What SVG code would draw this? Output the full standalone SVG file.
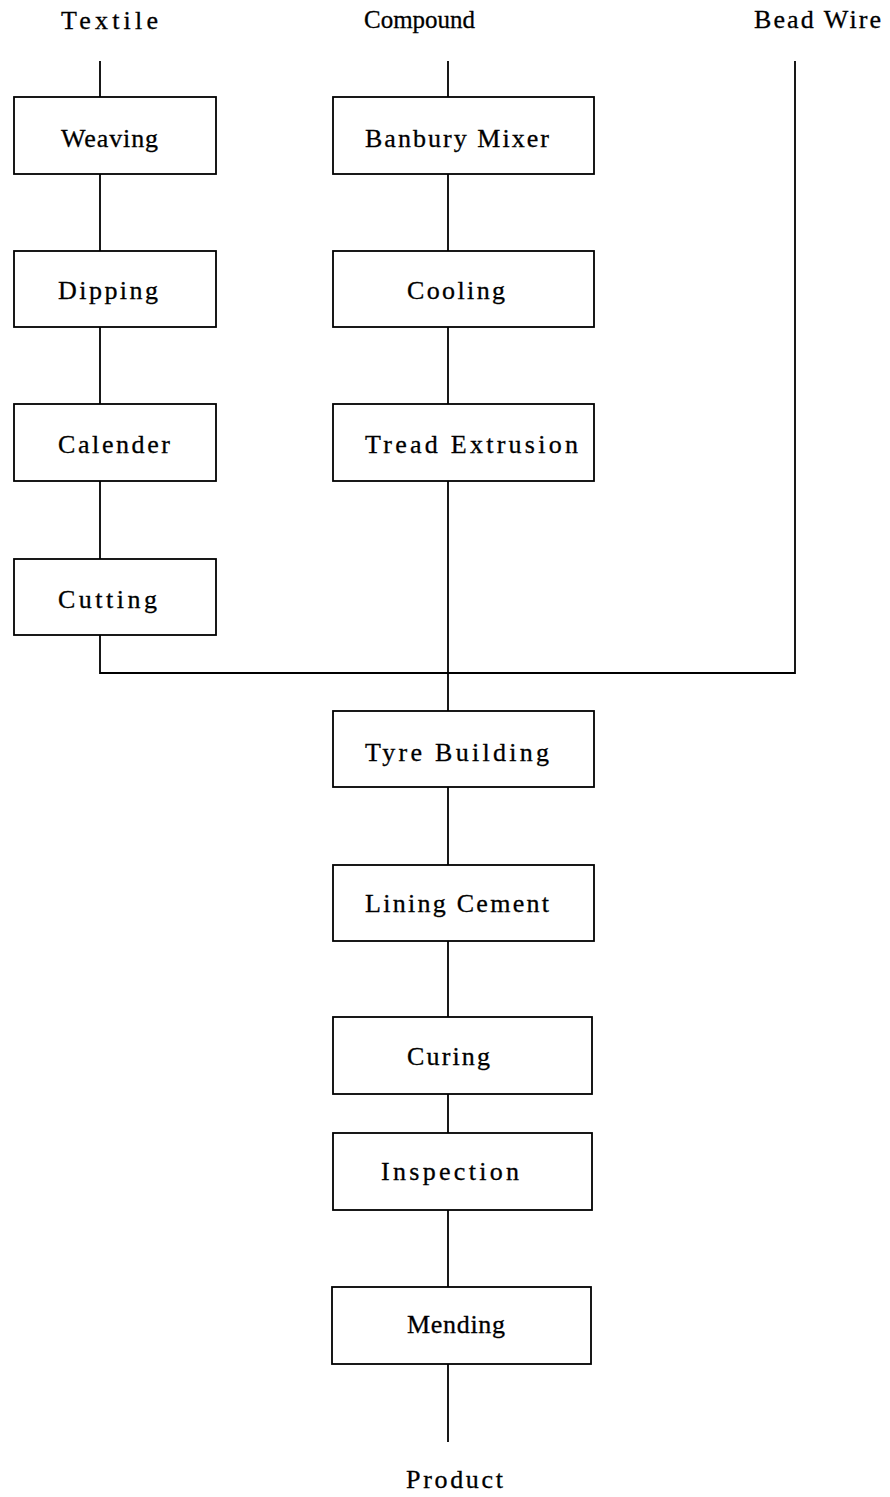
<svg xmlns="http://www.w3.org/2000/svg" width="890" height="1497" viewBox="0 0 890 1497">
<style>
.bg{fill:#fff}
.box{fill:#fff;stroke:#000;stroke-width:1.8}
.ln{fill:none;stroke:#000;stroke-width:1.8}
text{font-family:"Liberation Serif","DejaVu Serif",serif;font-size:26px;fill:#000;stroke:#000;stroke-width:0.3}
</style>
<rect class="bg" x="0" y="0" width="890" height="1497"/>
<g id="connectors">
<path class="ln" d="M100 61V97M100 174V251M100 327V404M100 481V559M100 635V673H795V61"/>
<path class="ln" d="M448 61V97M448 174V251M448 327V404M448 481V711M448 787V865M448 941V1017M448 1094V1133M448 1210V1287M448 1364V1442"/>
</g>
<g id="label-textile"><text x="61" y="29" textLength="97" lengthAdjust="spacing">Textile</text></g>
<g id="label-compound"><text x="364" y="28" textLength="111" lengthAdjust="spacingAndGlyphs">Compound</text></g>
<g id="label-beadwire"><text x="754" y="28" textLength="127" lengthAdjust="spacing">Bead Wire</text></g>
<g id="weaving"><rect class="box" x="14" y="97" width="202" height="77"/><text x="61" y="147" textLength="97" lengthAdjust="spacing">Weaving</text></g>
<g id="dipping"><rect class="box" x="14" y="251" width="202" height="76"/><text x="58" y="299" textLength="100" lengthAdjust="spacing">Dipping</text></g>
<g id="calender"><rect class="box" x="14" y="404" width="202" height="77"/><text x="58" y="453" textLength="112" lengthAdjust="spacing">Calender</text></g>
<g id="cutting"><rect class="box" x="14" y="559" width="202" height="76"/><text x="58" y="608" textLength="99" lengthAdjust="spacing">Cutting</text></g>
<g id="banbury"><rect class="box" x="333" y="97" width="261" height="77"/><text x="365" y="147" textLength="184" lengthAdjust="spacing">Banbury Mixer</text></g>
<g id="cooling"><rect class="box" x="333" y="251" width="261" height="76"/><text x="407" y="299" textLength="98" lengthAdjust="spacing">Cooling</text></g>
<g id="tread"><rect class="box" x="333" y="404" width="261" height="77"/><text x="365" y="453" textLength="213" lengthAdjust="spacing">Tread Extrusion</text></g>
<g id="tyre"><rect class="box" x="333" y="711" width="261" height="76"/><text x="365" y="761" textLength="184" lengthAdjust="spacing">Tyre Building</text></g>
<g id="lining"><rect class="box" x="333" y="865" width="261" height="76"/><text x="365" y="912" textLength="184" lengthAdjust="spacing">Lining Cement</text></g>
<g id="curing"><rect class="box" x="333" y="1017" width="259" height="77"/><text x="407" y="1065" textLength="83" lengthAdjust="spacing">Curing</text></g>
<g id="inspection"><rect class="box" x="333" y="1133" width="259" height="77"/><text x="381" y="1180" textLength="138" lengthAdjust="spacing">Inspection</text></g>
<g id="mending"><rect class="box" x="332" y="1287" width="259" height="77"/><text x="407" y="1333" textLength="98" lengthAdjust="spacing">Mending</text></g>
<g id="label-product"><text x="406" y="1488" textLength="97" lengthAdjust="spacing">Product</text></g>
</svg>
